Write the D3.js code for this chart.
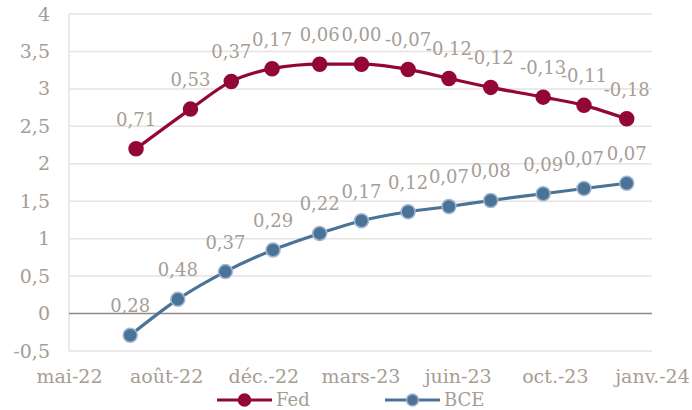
<!DOCTYPE html>
<html lang="fr">
<head>
<meta charset="UTF-8">
<title>Fed / BCE</title>
<script src="https://cdn.jsdelivr.net/npm/d3@7"></script>
<style>
  body { margin: 0; background: #fff; }
  svg text { font-family: "DejaVu Serif", Georgia, serif; fill: #a69d95; }
  .grid line { stroke: #e6e3e0; stroke-width: 1.5; }
</style>
</head>
<body>
<script>
// dates (x) and values (y) for each series
var fedDates  = ["2022-07-27","2022-09-21","2022-11-02","2022-12-14","2023-02-01","2023-03-16",
                 "2023-05-03","2023-06-14","2023-07-27","2023-09-19","2023-10-31","2023-12-14"];
var fedValues = [2.20, 2.73, 3.10, 3.27, 3.33, 3.33, 3.26, 3.14, 3.02, 2.89, 2.78, 2.60];
var fedLabels = ["0,71","0,53","0,37","0,17","0,06","0,00","-0,07","-0,12","-0,12","-0,13","-0,11","-0,18"];

var bceDates  = ["2022-07-21","2022-09-08","2022-10-27","2022-12-15","2023-02-01","2023-03-16",
                 "2023-05-03","2023-06-14","2023-07-27","2023-09-19","2023-10-31","2023-12-14"];
var bceValues = [-0.29, 0.19, 0.56, 0.85, 1.07, 1.24, 1.36, 1.43, 1.51, 1.60, 1.67, 1.74];
var bceLabels = ["0,28","0,48","0,37","0,29","0,22","0,17","0,12","0,07","0,08","0,09","0,07","0,07"];

// axis: date range with a tick every 100 days
var xStart = "2022-05-19", xEnd = "2024-01-09";
var xTickDays = [0, 100, 200, 300, 400, 500, 600];
var yTicks = [-0.5, 0, 0.5, 1, 1.5, 2, 2.5, 3, 3.5, 4];

var W = 692, H = 410;
var margin = {top: 14, right: 40, bottom: 59, left: 69};
var width = W - margin.left - margin.right;
var height = H - margin.top - margin.bottom;

var parse = d3.timeParse("%Y-%m-%d");
var frTime = d3.timeFormatLocale({
  dateTime: "%A %e %B %Y à %X", date: "%d/%m/%Y", time: "%H:%M:%S",
  periods: ["AM", "PM"],
  days: ["dimanche","lundi","mardi","mercredi","jeudi","vendredi","samedi"],
  shortDays: ["dim.","lun.","mar.","mer.","jeu.","ven.","sam."],
  months: ["janvier","février","mars","avril","mai","juin","juillet","août","septembre","octobre","novembre","décembre"],
  shortMonths: ["janv.","févr.","mars","avr.","mai","juin","juil.","août","sept.","oct.","nov.","déc."]
});
var frNum = d3.formatLocale({decimal: ",", thousands: " ", grouping: [3], currency: ["", " €"], minus: "-"});

var svg = d3.select("body").append("svg")
  .attr("width", W).attr("height", H)
  .append("g")
  .attr("transform", "translate(" + margin.left + "," + margin.top + ")");

var x = d3.scaleTime().domain([parse(xStart), parse(xEnd)]).range([0, width]);
var y = d3.scaleLinear().domain([-0.5, 4]).range([height, 0]);

// gridlines
svg.append("g").attr("class", "grid")
  .selectAll("line").data(yTicks.filter(function(d){ return d !== 0; }))
  .enter().append("line")
  .attr("x1", 0).attr("x2", width)
  .attr("y1", function(d){ return y(d); }).attr("y2", function(d){ return y(d); });

svg.append("line")
  .attr("x1", 0).attr("x2", 0).attr("y1", 0).attr("y2", height)
  .attr("stroke", "#e6e3e0").attr("stroke-width", 1.5);

svg.append("line")
  .attr("x1", 0).attr("x2", width).attr("y1", y(0)).attr("y2", y(0))
  .attr("stroke", "#8e8a87").attr("stroke-width", 1.5);

// y axis
var yAxis = d3.axisLeft(y).tickValues(yTicks).tickSize(0).tickPadding(19)
  .tickFormat(frNum.format("~r"));
var yg = svg.append("g").call(yAxis);
yg.select(".domain").remove();
yg.selectAll("text").style("font-size", "19px").attr("fill", "#a69d95");

// x axis
var xTicks = xTickDays.map(function(n){ return d3.timeDay.offset(parse(xStart), n); });
var xAxis = d3.axisBottom(x).tickValues(xTicks).tickSize(0).tickPadding(19)
  .tickFormat(frTime.format("%b-%y"));
var xg = svg.append("g").attr("transform", "translate(0," + height + ")").call(xAxis);
xg.select(".domain").remove();
xg.selectAll("text").style("font-size", "19px").attr("fill", "#a69d95");

// series
var series = [
  {name: "Fed", dates: fedDates, values: fedValues, labels: fedLabels, color: "#930638", ring: "#930638"},
  {name: "BCE", dates: bceDates, values: bceValues, labels: bceLabels, color: "#4a7397", ring: "#a3b6d0"}
];

var line = d3.line()
  .x(function(d){ return x(d.date); })
  .y(function(d){ return y(d.value); })
  .curve(d3.curveMonotoneX);

series.forEach(function(s) {
  var pts = s.dates.map(function(d, i){ return {date: parse(d), value: s.values[i], label: s.labels[i]}; });

  svg.append("path").datum(pts)
    .attr("fill", "none").attr("stroke", s.color).attr("stroke-width", 3.2)
    .attr("d", line);

  svg.selectAll(null).data(pts).enter().append("circle")
    .attr("cx", function(d){ return x(d.date); })
    .attr("cy", function(d){ return y(d.value); })
    .attr("r", 7)
    .attr("fill", s.color)
    .attr("stroke", s.ring).attr("stroke-width", 1.5);

  svg.selectAll(null).data(pts).enter().append("text")
    .attr("x", function(d){ return x(d.date); })
    .attr("y", function(d){ return y(d.value) - 23; })
    .attr("text-anchor", "middle")
    .style("font-size", "18px")
    .text(function(d){ return d.label; });
});

// legend
var legend = d3.select("svg").append("g");
var items = [{s: series[0], x: 217}, {s: series[1], x: 385}];
items.forEach(function(it) {
  var g = legend.append("g").attr("transform", "translate(" + it.x + ",400)");
  g.append("line").attr("x1", 0).attr("x2", 55).attr("y1", 0).attr("y2", 0)
    .attr("stroke", it.s.color).attr("stroke-width", 3.2);
  g.append("circle").attr("cx", 27.5).attr("cy", 0).attr("r", 6)
    .attr("fill", it.s.color).attr("stroke", it.s.ring).attr("stroke-width", 1.5);
  g.append("text").attr("x", 59).attr("y", 6).style("font-size", "18px").text(it.s.name);
});
</script>
</body>
</html>
